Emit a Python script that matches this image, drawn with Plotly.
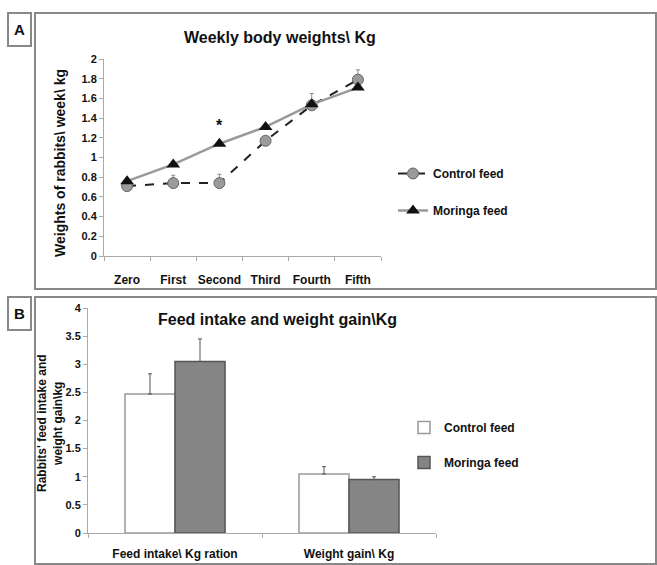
import plotly.graph_objects as go

W, H = 657, 565

weeks = ["Zero", "First", "Second", "Third", "Fourth", "Fifth"]
control_weight = [0.71, 0.74, 0.74, 1.17, 1.53, 1.79]
control_weight_err = [0.02, 0.08, 0.09, 0.03, 0.12, 0.10]
moringa_weight = [0.76, 0.93, 1.14, 1.31, 1.54, 1.71]

groups = ["Feed intake\\ Kg ration", "Weight gain\\ Kg"]
control_bar = [2.47, 1.05]
control_bar_err = [0.36, 0.13]
moringa_bar = [3.05, 0.95]
moringa_bar_err = [0.40, 0.05]

FONT = "Liberation Sans, Arial"
FONT2 = "Liberation Sans, Arial"

def px(x):
    return x / W

def py(y):
    return 1 - y / H

fig = go.Figure()

# Panel A traces
fig.add_trace(go.Scatter(
    x=weeks, y=control_weight, name="Control feed", mode="lines+markers",
    line=dict(color="#222222", width=2, dash="dash"),
    marker=dict(symbol="circle", size=11, color="#9a9a9a", line=dict(color="#666666", width=1)),
    error_y=dict(type="data", symmetric=False, array=control_weight_err,
                 arrayminus=[0]*6, color="#888888", thickness=1, width=2),
    xaxis="x", yaxis="y", legend="legend", legendgroup="c",
))
fig.add_trace(go.Scatter(
    x=weeks, y=moringa_weight, name="Moringa feed", mode="lines+markers",
    line=dict(color="#9a9a9a", width=2.5),
    marker=dict(symbol="triangle-up", size=12, color="#111111"),
    xaxis="x", yaxis="y", legend="legend", legendgroup="m",
))

# Panel B traces
fig.add_trace(go.Bar(
    x=groups, y=control_bar, name="Control feed",
    marker=dict(color="white", line=dict(color="#999999", width=1.5)),
    error_y=dict(type="data", symmetric=False, array=control_bar_err,
                 arrayminus=[0, 0], color="#555555", thickness=1, width=2),
    xaxis="x2", yaxis="y2", legend="legend2", legendgroup="bc",
))
fig.add_trace(go.Bar(
    x=groups, y=moringa_bar, name="Moringa feed",
    marker=dict(color="#858585", line=dict(color="#555555", width=1.5)),
    error_y=dict(type="data", symmetric=False, array=moringa_bar_err,
                 arrayminus=[0, 0], color="#555555", thickness=1, width=2),
    xaxis="x2", yaxis="y2", legend="legend2", legendgroup="bm",
))

axis_common = dict(showgrid=False, zeroline=False, showline=True, linecolor="#aaaaaa",
                   linewidth=1, ticks="outside", ticklen=4, tickcolor="#aaaaaa",
                   automargin=False)

fig.update_layout(
    width=W, height=H, margin=dict(l=0, r=0, t=0, b=0, autoexpand=False),
    paper_bgcolor="white", plot_bgcolor="white",
    showlegend=True, bargap=0.425, bargroupgap=0,
    xaxis=dict(domain=[px(104), px(381)], anchor="y", type="category",
               range=[-0.5, 5.5], tickson="boundaries", ticklabelstandoff=13, tickangle=0,
               tickfont=dict(family=FONT, size=12, color="#111111", weight="bold"),
               **axis_common),
    yaxis=dict(domain=[py(256), py(59)], anchor="x", range=[0, 2], dtick=0.2,
               tickformat="~g",
               tickfont=dict(family=FONT2, size=11, color="#111111", weight="bold"),
               **axis_common),
    xaxis2=dict(domain=[px(88), px(436)], anchor="y2", type="category",
                range=[-0.5, 1.5], tickson="boundaries", ticklabelstandoff=10, tickangle=0,
                tickfont=dict(family=FONT, size=12, color="#111111", weight="bold"),
                **axis_common),
    yaxis2=dict(domain=[py(533), py(308)], anchor="x2", range=[0, 4], dtick=0.5,
                tickformat="~g",
                tickfont=dict(family=FONT2, size=11, color="#111111", weight="bold"),
                **axis_common),
    legend=dict(x=px(393), y=py(159), xanchor="left", yanchor="top",
                bgcolor="rgba(0,0,0,0)", tracegroupgap=18, itemwidth=30,
                font=dict(family=FONT, size=12, color="#111111", weight="bold")),
    legend2=dict(x=px(404), y=py(413), xanchor="left", yanchor="top",
                 bgcolor="rgba(0,0,0,0)", tracegroupgap=16, itemwidth=30,
                 font=dict(family=FONT, size=12, color="#111111", weight="bold")),
)

shapes = []
box = dict(type="rect", xref="paper", yref="paper", line=dict(color="#888888", width=2),
           fillcolor="rgba(0,0,0,0)")
shapes.append(dict(box, x0=px(35), x1=px(656), y0=py(289), y1=py(13)))
shapes.append(dict(box, x0=px(35), x1=px(656), y0=py(564), y1=py(297)))
shapes.append(dict(box, x0=px(8), x1=px(31), y0=py(46), y1=py(13)))
shapes.append(dict(box, x0=px(8), x1=px(31), y0=py(330), y1=py(297)))
fig.update_layout(shapes=shapes)

def note(text, x, y, size, family=FONT2, angle=0, xref="paper", yref="paper"):
    return dict(text=text, x=x, y=y, xref=xref, yref=yref, showarrow=False,
                xanchor="center", yanchor="middle", textangle=angle,
                font=dict(family=family, size=size, color="#111111", weight="bold"))

ann = [
    note("A", px(19.5), py(29.5), 15),
    note("B", px(19.5), py(313.5), 15),
    note("Weekly body weights\\ Kg", px(280), py(38), 16, FONT),
    note("Feed intake and weight gain\\Kg", px(277), py(319), 16, FONT),
    note("Weights of rabbits\\ week\\ kg", px(60), py(163), 14, angle=-90),
    note("Rabbits' feed intake and<br>weight gain\\kg", px(50), py(423), 12, angle=-90),
    note("*", "Second", 1.33, 16, xref="x", yref="y"),
]
fig.update_layout(annotations=ann)

fig.write_html("out.html", config={"displayModeBar": False},
               post_script="document.body.style.margin='0';document.body.style.overflow='hidden';")
